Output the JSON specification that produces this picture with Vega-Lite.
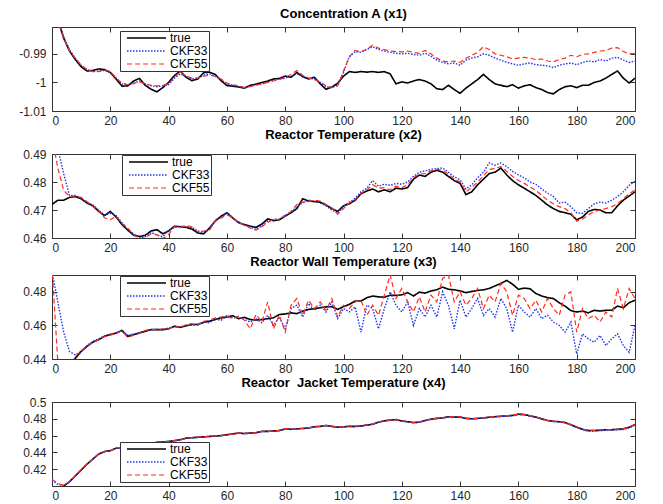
{
"$schema": "https://vega.github.io/schema/vega-lite/v6.json",
"padding": {"left": 18, "top": 7, "right": 5, "bottom": 2},
"spacing": 1,
"datasets": {
"p1": [
{"x":0,"true":-0.972,"CKF33":-0.971,"CKF55":-0.972},
{"x":2,"true":-0.978,"CKF33":-0.977,"CKF55":-0.978},
{"x":4,"true":-0.9845,"CKF33":-0.984,"CKF55":-0.9845},
{"x":6,"true":-0.989,"CKF33":-0.9885,"CKF55":-0.989},
{"x":8,"true":-0.992,"CKF33":-0.9915,"CKF55":-0.9915},
{"x":10,"true":-0.9945,"CKF33":-0.994,"CKF55":-0.994},
{"x":12,"true":-0.996,"CKF33":-0.9955,"CKF55":-0.9955},
{"x":14,"true":-0.9958,"CKF33":-0.9962,"CKF55":-0.9962},
{"x":16,"true":-0.9953,"CKF33":-0.996,"CKF55":-0.9962},
{"x":18,"true":-0.9955,"CKF33":-0.9958,"CKF55":-0.9955},
{"x":20,"true":-0.9965,"CKF33":-0.9965,"CKF55":-0.9962},
{"x":22,"true":-0.9988,"CKF33":-0.9985,"CKF55":-0.9985},
{"x":24,"true":-1.0013,"CKF33":-1.0005,"CKF55":-1.0002},
{"x":26,"true":-1.0012,"CKF33":-1.0008,"CKF55":-1.0008},
{"x":28,"true":-0.9995,"CKF33":-1.0002,"CKF55":-1.0004},
{"x":30,"true":-0.9986,"CKF33":-0.9995,"CKF55":-0.9998},
{"x":32,"true":-1.001,"CKF33":-1.0005,"CKF55":-1.0005},
{"x":34,"true":-1.0024,"CKF33":-1.0012,"CKF55":-1.001},
{"x":36,"true":-1.0033,"CKF33":-1.0015,"CKF55":-1.0012},
{"x":38,"true":-1.0018,"CKF33":-1.0012,"CKF55":-1.001},
{"x":40,"true":-1.0,"CKF33":-1.0008,"CKF55":-1.0005},
{"x":42,"true":-0.9976,"CKF33":-0.9985,"CKF55":-0.9982},
{"x":44,"true":-0.996,"CKF33":-0.997,"CKF55":-0.9962},
{"x":46,"true":-0.9982,"CKF33":-0.998,"CKF55":-0.9978},
{"x":48,"true":-0.9994,"CKF33":-0.9988,"CKF55":-0.9985},
{"x":50,"true":-0.9988,"CKF33":-0.9985,"CKF55":-0.9985},
{"x":52,"true":-0.9966,"CKF33":-0.9975,"CKF55":-0.9978},
{"x":54,"true":-0.9964,"CKF33":-0.997,"CKF55":-0.9975},
{"x":56,"true":-0.9972,"CKF33":-0.9978,"CKF55":-0.9978},
{"x":58,"true":-0.9994,"CKF33":-0.999,"CKF55":-0.9988},
{"x":60,"true":-1.0011,"CKF33":-1.0005,"CKF55":-1.0002},
{"x":62,"true":-1.0013,"CKF33":-1.001,"CKF55":-1.0008},
{"x":64,"true":-1.0016,"CKF33":-1.0015,"CKF55":-1.0012},
{"x":66,"true":-1.002,"CKF33":-1.0018,"CKF55":-1.0018},
{"x":68,"true":-1.001,"CKF33":-1.0012,"CKF55":-1.0015},
{"x":70,"true":-1.0006,"CKF33":-1.0008,"CKF55":-1.001},
{"x":72,"true":-1.0,"CKF33":-1.0005,"CKF55":-1.0005},
{"x":74,"true":-0.9995,"CKF33":-0.9998,"CKF55":-1.0},
{"x":76,"true":-0.9988,"CKF33":-0.9992,"CKF55":-0.9995},
{"x":78,"true":-0.9986,"CKF33":-0.9988,"CKF55":-0.999},
{"x":80,"true":-0.9978,"CKF33":-0.9985,"CKF55":-0.9982},
{"x":82,"true":-0.9982,"CKF33":-0.9978,"CKF55":-0.9972},
{"x":84,"true":-0.9965,"CKF33":-0.997,"CKF55":-0.9958},
{"x":86,"true":-0.998,"CKF33":-0.9978,"CKF55":-0.9975},
{"x":88,"true":-0.9988,"CKF33":-0.9985,"CKF55":-0.9985},
{"x":90,"true":-0.9982,"CKF33":-0.9988,"CKF55":-0.999},
{"x":92,"true":-1.0005,"CKF33":-1.0,"CKF55":-0.9998},
{"x":94,"true":-1.0024,"CKF33":-1.0015,"CKF55":-1.0012},
{"x":96,"true":-1.0016,"CKF33":-1.0018,"CKF55":-1.0018},
{"x":98,"true":-1.0003,"CKF33":-1.001,"CKF55":-1.0012},
{"x":100,"true":-0.9978,"CKF33":-0.9965,"CKF55":-0.996},
{"x":102,"true":-0.9962,"CKF33":-0.991,"CKF55":-0.991},
{"x":104,"true":-0.9965,"CKF33":-0.9892,"CKF55":-0.9888},
{"x":106,"true":-0.9962,"CKF33":-0.9895,"CKF55":-0.9893},
{"x":108,"true":-0.9964,"CKF33":-0.9885,"CKF55":-0.9883},
{"x":110,"true":-0.9962,"CKF33":-0.9875,"CKF55":-0.987},
{"x":112,"true":-0.9965,"CKF33":-0.9885,"CKF55":-0.988},
{"x":114,"true":-0.9962,"CKF33":-0.989,"CKF55":-0.9885},
{"x":116,"true":-0.997,"CKF33":-0.9895,"CKF55":-0.989},
{"x":118,"true":-1.0005,"CKF33":-0.9898,"CKF55":-0.9892},
{"x":120,"true":-0.9998,"CKF33":-0.99,"CKF55":-0.9893},
{"x":122,"true":-1.0002,"CKF33":-0.9898,"CKF55":-0.989},
{"x":124,"true":-0.9995,"CKF33":-0.9902,"CKF55":-0.9895},
{"x":126,"true":-0.999,"CKF33":-0.9905,"CKF55":-0.9898},
{"x":128,"true":-0.9995,"CKF33":-0.9898,"CKF55":-0.9888},
{"x":130,"true":-1.0005,"CKF33":-0.9908,"CKF55":-0.99},
{"x":132,"true":-1.0022,"CKF33":-0.9922,"CKF55":-0.9915},
{"x":134,"true":-1.0025,"CKF33":-0.993,"CKF55":-0.9925},
{"x":136,"true":-1.001,"CKF33":-0.9935,"CKF55":-0.9928},
{"x":138,"true":-1.0025,"CKF33":-0.9932,"CKF55":-0.9925},
{"x":140,"true":-1.0038,"CKF33":-0.994,"CKF55":-0.993},
{"x":142,"true":-1.002,"CKF33":-0.9922,"CKF55":-0.9915},
{"x":144,"true":-1.0005,"CKF33":-0.9915,"CKF55":-0.9905},
{"x":146,"true":-0.999,"CKF33":-0.991,"CKF55":-0.9895},
{"x":148,"true":-0.9972,"CKF33":-0.99,"CKF55":-0.9875},
{"x":150,"true":-0.999,"CKF33":-0.9905,"CKF55":-0.9885},
{"x":152,"true":-1.0005,"CKF33":-0.9915,"CKF55":-0.99},
{"x":154,"true":-1.001,"CKF33":-0.9922,"CKF55":-0.9905},
{"x":156,"true":-1.0015,"CKF33":-0.993,"CKF55":-0.991},
{"x":158,"true":-1.0008,"CKF33":-0.9935,"CKF55":-0.9918},
{"x":160,"true":-1.002,"CKF33":-0.994,"CKF55":-0.9915},
{"x":162,"true":-1.0012,"CKF33":-0.9935,"CKF55":-0.9912},
{"x":164,"true":-1.0008,"CKF33":-0.9932,"CKF55":-0.9915},
{"x":166,"true":-1.0018,"CKF33":-0.9938,"CKF55":-0.992},
{"x":168,"true":-1.0025,"CKF33":-0.994,"CKF55":-0.9918},
{"x":170,"true":-1.0035,"CKF33":-0.9942,"CKF55":-0.9925},
{"x":172,"true":-1.004,"CKF33":-0.9948,"CKF55":-0.9928},
{"x":174,"true":-1.0025,"CKF33":-0.994,"CKF55":-0.992},
{"x":176,"true":-1.0015,"CKF33":-0.9935,"CKF55":-0.9915},
{"x":178,"true":-1.0012,"CKF33":-0.9932,"CKF55":-0.9905},
{"x":180,"true":-1.0018,"CKF33":-0.9938,"CKF55":-0.991},
{"x":182,"true":-1.001,"CKF33":-0.993,"CKF55":-0.9902},
{"x":184,"true":-1.001,"CKF33":-0.9925,"CKF55":-0.99},
{"x":186,"true":-1.0,"CKF33":-0.9928,"CKF55":-0.9895},
{"x":188,"true":-0.9995,"CKF33":-0.992,"CKF55":-0.989},
{"x":190,"true":-0.9985,"CKF33":-0.9925,"CKF55":-0.9888},
{"x":192,"true":-0.9972,"CKF33":-0.9915,"CKF55":-0.988},
{"x":194,"true":-0.996,"CKF33":-0.9912,"CKF55":-0.9878},
{"x":196,"true":-0.9985,"CKF33":-0.9922,"CKF55":-0.9892},
{"x":198,"true":-1.0002,"CKF33":-0.993,"CKF55":-0.99},
{"x":200,"true":-0.9985,"CKF33":-0.9925,"CKF55":-0.9898}
],
"p2": [
{"x":0,"true":0.472,"CKF33":0.505,"CKF55":0.496},
{"x":2,"true":0.4735,"CKF33":0.492,"CKF55":0.485},
{"x":4,"true":0.4735,"CKF33":0.483,"CKF55":0.477},
{"x":6,"true":0.4745,"CKF33":0.4752,"CKF55":0.4748},
{"x":8,"true":0.4748,"CKF33":0.4752,"CKF55":0.475},
{"x":10,"true":0.474,"CKF33":0.4742,"CKF55":0.4745},
{"x":12,"true":0.4725,"CKF33":0.4728,"CKF55":0.473},
{"x":14,"true":0.4715,"CKF33":0.4718,"CKF55":0.4712},
{"x":16,"true":0.4695,"CKF33":0.47,"CKF55":0.4698},
{"x":18,"true":0.468,"CKF33":0.4682,"CKF55":0.4672},
{"x":20,"true":0.4695,"CKF33":0.4688,"CKF55":0.4665},
{"x":22,"true":0.4675,"CKF33":0.468,"CKF55":0.4678},
{"x":24,"true":0.4648,"CKF33":0.4655,"CKF55":0.4652},
{"x":26,"true":0.4628,"CKF33":0.463,"CKF55":0.4635},
{"x":28,"true":0.461,"CKF33":0.4615,"CKF55":0.4612},
{"x":30,"true":0.4605,"CKF33":0.46,"CKF55":0.4598},
{"x":32,"true":0.461,"CKF33":0.4605,"CKF55":0.46},
{"x":34,"true":0.4625,"CKF33":0.462,"CKF55":0.4615},
{"x":36,"true":0.463,"CKF33":0.461,"CKF55":0.4612},
{"x":38,"true":0.4615,"CKF33":0.4605,"CKF55":0.4598},
{"x":40,"true":0.4625,"CKF33":0.4628,"CKF55":0.4612},
{"x":42,"true":0.4642,"CKF33":0.4638,"CKF55":0.464},
{"x":44,"true":0.464,"CKF33":0.4642,"CKF55":0.4638},
{"x":46,"true":0.4638,"CKF33":0.464,"CKF55":0.4645},
{"x":48,"true":0.4632,"CKF33":0.4638,"CKF55":0.464},
{"x":50,"true":0.4618,"CKF33":0.4625,"CKF55":0.4622},
{"x":52,"true":0.4615,"CKF33":0.462,"CKF55":0.4625},
{"x":54,"true":0.4635,"CKF33":0.463,"CKF55":0.4628},
{"x":56,"true":0.466,"CKF33":0.4665,"CKF55":0.4662},
{"x":58,"true":0.4678,"CKF33":0.4675,"CKF55":0.4672},
{"x":60,"true":0.469,"CKF33":0.4688,"CKF55":0.4682},
{"x":62,"true":0.4672,"CKF33":0.467,"CKF55":0.4675},
{"x":64,"true":0.4655,"CKF33":0.4658,"CKF55":0.4652},
{"x":66,"true":0.4648,"CKF33":0.4645,"CKF55":0.465},
{"x":68,"true":0.4642,"CKF33":0.464,"CKF55":0.4635},
{"x":70,"true":0.4638,"CKF33":0.463,"CKF55":0.4628},
{"x":72,"true":0.465,"CKF33":0.4645,"CKF55":0.464},
{"x":74,"true":0.4668,"CKF33":0.466,"CKF55":0.4655},
{"x":76,"true":0.4662,"CKF33":0.4665,"CKF55":0.4668},
{"x":78,"true":0.4665,"CKF33":0.4668,"CKF55":0.4665},
{"x":80,"true":0.4678,"CKF33":0.468,"CKF55":0.4682},
{"x":82,"true":0.469,"CKF33":0.4692,"CKF55":0.4695},
{"x":84,"true":0.4705,"CKF33":0.4712,"CKF55":0.472},
{"x":86,"true":0.474,"CKF33":0.4725,"CKF55":0.4728},
{"x":88,"true":0.4732,"CKF33":0.4735,"CKF55":0.473},
{"x":90,"true":0.473,"CKF33":0.4732,"CKF55":0.4735},
{"x":92,"true":0.4728,"CKF33":0.4725,"CKF55":0.4732},
{"x":94,"true":0.4718,"CKF33":0.4715,"CKF55":0.472},
{"x":96,"true":0.4705,"CKF33":0.47,"CKF55":0.4708},
{"x":98,"true":0.4695,"CKF33":0.4688,"CKF55":0.4685},
{"x":100,"true":0.4715,"CKF33":0.4712,"CKF55":0.4705},
{"x":102,"true":0.4722,"CKF33":0.4728,"CKF55":0.4725},
{"x":104,"true":0.4735,"CKF33":0.4742,"CKF55":0.4738},
{"x":106,"true":0.4758,"CKF33":0.4765,"CKF55":0.476},
{"x":108,"true":0.4768,"CKF33":0.4778,"CKF55":0.4772},
{"x":110,"true":0.4775,"CKF33":0.4805,"CKF55":0.479},
{"x":112,"true":0.4765,"CKF33":0.4785,"CKF55":0.4778},
{"x":114,"true":0.4772,"CKF33":0.4792,"CKF55":0.478},
{"x":116,"true":0.4765,"CKF33":0.4788,"CKF55":0.4772},
{"x":118,"true":0.4778,"CKF33":0.4795,"CKF55":0.4785},
{"x":120,"true":0.4775,"CKF33":0.4792,"CKF55":0.478},
{"x":122,"true":0.478,"CKF33":0.48,"CKF55":0.479},
{"x":124,"true":0.481,"CKF33":0.482,"CKF55":0.4815},
{"x":126,"true":0.4825,"CKF33":0.4835,"CKF55":0.4828},
{"x":128,"true":0.482,"CKF33":0.484,"CKF55":0.483},
{"x":130,"true":0.4835,"CKF33":0.4845,"CKF55":0.484},
{"x":132,"true":0.4842,"CKF33":0.4848,"CKF55":0.4845},
{"x":134,"true":0.4835,"CKF33":0.485,"CKF55":0.4842},
{"x":136,"true":0.482,"CKF33":0.4835,"CKF55":0.4828},
{"x":138,"true":0.4805,"CKF33":0.4818,"CKF55":0.481},
{"x":140,"true":0.4795,"CKF33":0.4808,"CKF55":0.48},
{"x":142,"true":0.4755,"CKF33":0.4775,"CKF55":0.4765},
{"x":144,"true":0.4765,"CKF33":0.479,"CKF55":0.478},
{"x":146,"true":0.479,"CKF33":0.4815,"CKF55":0.48},
{"x":148,"true":0.481,"CKF33":0.4835,"CKF55":0.4822},
{"x":150,"true":0.483,"CKF33":0.4868,"CKF55":0.4845},
{"x":152,"true":0.4835,"CKF33":0.486,"CKF55":0.4848},
{"x":154,"true":0.485,"CKF33":0.4868,"CKF55":0.4855},
{"x":156,"true":0.4825,"CKF33":0.4855,"CKF55":0.4838},
{"x":158,"true":0.4805,"CKF33":0.4838,"CKF55":0.482},
{"x":160,"true":0.479,"CKF33":0.4825,"CKF55":0.4805},
{"x":162,"true":0.4778,"CKF33":0.4815,"CKF55":0.4795},
{"x":164,"true":0.4765,"CKF33":0.48,"CKF55":0.4782},
{"x":166,"true":0.4752,"CKF33":0.4792,"CKF55":0.477},
{"x":168,"true":0.4735,"CKF33":0.4775,"CKF55":0.4752},
{"x":170,"true":0.4718,"CKF33":0.476,"CKF55":0.4735},
{"x":172,"true":0.4705,"CKF33":0.4748,"CKF55":0.4722},
{"x":174,"true":0.4695,"CKF33":0.4725,"CKF55":0.4712},
{"x":176,"true":0.469,"CKF33":0.4728,"CKF55":0.4705},
{"x":178,"true":0.4685,"CKF33":0.4712,"CKF55":0.469},
{"x":180,"true":0.4665,"CKF33":0.469,"CKF55":0.466},
{"x":182,"true":0.4675,"CKF33":0.4688,"CKF55":0.4668},
{"x":184,"true":0.4695,"CKF33":0.4705,"CKF55":0.4682},
{"x":186,"true":0.4702,"CKF33":0.4722,"CKF55":0.4695},
{"x":188,"true":0.47,"CKF33":0.4728,"CKF55":0.47},
{"x":190,"true":0.469,"CKF33":0.4725,"CKF55":0.4705},
{"x":192,"true":0.469,"CKF33":0.4735,"CKF55":0.4712},
{"x":194,"true":0.4715,"CKF33":0.4748,"CKF55":0.4722},
{"x":196,"true":0.4735,"CKF33":0.4765,"CKF55":0.474},
{"x":198,"true":0.475,"CKF33":0.4788,"CKF55":0.4758},
{"x":200,"true":0.4765,"CKF33":0.4802,"CKF55":0.4772}
],
"p3": [
{"x":0,"true":0.42,"CKF33":0.492,"CKF55":0.495},
{"x":2,"true":0.425,"CKF33":0.474,"CKF55":0.438},
{"x":4,"true":0.43,"CKF33":0.456,"CKF55":0.432},
{"x":6,"true":0.436,"CKF33":0.4445,"CKF55":0.436},
{"x":8,"true":0.4405,"CKF33":0.4425,"CKF55":0.4415},
{"x":10,"true":0.4445,"CKF33":0.4445,"CKF55":0.4448},
{"x":12,"true":0.4475,"CKF33":0.448,"CKF55":0.4478},
{"x":14,"true":0.45,"CKF33":0.4505,"CKF55":0.4498},
{"x":16,"true":0.4515,"CKF33":0.452,"CKF55":0.4515},
{"x":18,"true":0.4535,"CKF33":0.4538,"CKF55":0.4532},
{"x":20,"true":0.4545,"CKF33":0.4548,"CKF55":0.4542},
{"x":22,"true":0.4555,"CKF33":0.4555,"CKF55":0.4552},
{"x":24,"true":0.457,"CKF33":0.4565,"CKF55":0.4568},
{"x":26,"true":0.4535,"CKF33":0.454,"CKF55":0.4528},
{"x":28,"true":0.4545,"CKF33":0.4548,"CKF55":0.4542},
{"x":30,"true":0.4555,"CKF33":0.4558,"CKF55":0.4552},
{"x":32,"true":0.4565,"CKF33":0.4568,"CKF55":0.457},
{"x":34,"true":0.4575,"CKF33":0.4572,"CKF55":0.4578},
{"x":36,"true":0.4575,"CKF33":0.4578,"CKF55":0.4572},
{"x":38,"true":0.4575,"CKF33":0.457,"CKF55":0.458},
{"x":40,"true":0.458,"CKF33":0.4585,"CKF55":0.4578},
{"x":42,"true":0.4595,"CKF33":0.459,"CKF55":0.46},
{"x":44,"true":0.4588,"CKF33":0.4592,"CKF55":0.4585},
{"x":46,"true":0.4598,"CKF33":0.46,"CKF55":0.4605},
{"x":48,"true":0.4605,"CKF33":0.46,"CKF55":0.461},
{"x":50,"true":0.4605,"CKF33":0.4608,"CKF55":0.46},
{"x":52,"true":0.4618,"CKF33":0.462,"CKF55":0.4625},
{"x":54,"true":0.4625,"CKF33":0.4615,"CKF55":0.463},
{"x":56,"true":0.4635,"CKF33":0.464,"CKF55":0.4645},
{"x":58,"true":0.4645,"CKF33":0.463,"CKF55":0.465},
{"x":60,"true":0.465,"CKF33":0.4658,"CKF55":0.4655},
{"x":62,"true":0.4658,"CKF33":0.4645,"CKF55":0.464},
{"x":64,"true":0.464,"CKF33":0.465,"CKF55":0.4655},
{"x":66,"true":0.4648,"CKF33":0.4635,"CKF55":0.463},
{"x":68,"true":0.4635,"CKF33":0.462,"CKF55":0.458},
{"x":70,"true":0.4632,"CKF33":0.464,"CKF55":0.4665},
{"x":72,"true":0.4635,"CKF33":0.4615,"CKF55":0.462},
{"x":74,"true":0.464,"CKF33":0.466,"CKF55":0.474},
{"x":76,"true":0.4645,"CKF33":0.46,"CKF55":0.458},
{"x":78,"true":0.4665,"CKF33":0.465,"CKF55":0.466},
{"x":80,"true":0.4668,"CKF33":0.458,"CKF55":0.456},
{"x":82,"true":0.4675,"CKF33":0.47,"CKF55":0.472},
{"x":84,"true":0.467,"CKF33":0.472,"CKF55":0.476},
{"x":86,"true":0.4685,"CKF33":0.465,"CKF55":0.466},
{"x":88,"true":0.4695,"CKF33":0.473,"CKF55":0.475},
{"x":90,"true":0.47,"CKF33":0.469,"CKF55":0.47},
{"x":92,"true":0.4705,"CKF33":0.472,"CKF55":0.474},
{"x":94,"true":0.471,"CKF33":0.468,"CKF55":0.469},
{"x":96,"true":0.4712,"CKF33":0.474,"CKF55":0.476},
{"x":98,"true":0.4695,"CKF33":0.464,"CKF55":0.465},
{"x":100,"true":0.4712,"CKF33":0.47,"CKF55":0.472},
{"x":102,"true":0.4725,"CKF33":0.468,"CKF55":0.47},
{"x":104,"true":0.4745,"CKF33":0.471,"CKF55":0.474},
{"x":106,"true":0.4745,"CKF33":0.456,"CKF55":0.475},
{"x":108,"true":0.4765,"CKF33":0.472,"CKF55":0.466},
{"x":110,"true":0.4775,"CKF33":0.47,"CKF55":0.472},
{"x":112,"true":0.477,"CKF33":0.458,"CKF55":0.466},
{"x":114,"true":0.4768,"CKF33":0.47,"CKF55":0.478},
{"x":116,"true":0.478,"CKF33":0.48,"CKF55":0.49},
{"x":118,"true":0.4778,"CKF33":0.472,"CKF55":0.476},
{"x":120,"true":0.4782,"CKF33":0.468,"CKF55":0.482},
{"x":122,"true":0.4795,"CKF33":0.474,"CKF55":0.474},
{"x":124,"true":0.4775,"CKF33":0.46,"CKF55":0.468},
{"x":126,"true":0.4798,"CKF33":0.47,"CKF55":0.477},
{"x":128,"true":0.4792,"CKF33":0.465,"CKF55":0.468},
{"x":130,"true":0.4805,"CKF33":0.472,"CKF55":0.478},
{"x":132,"true":0.4812,"CKF33":0.465,"CKF55":0.474},
{"x":134,"true":0.4828,"CKF33":0.48,"CKF55":0.488},
{"x":136,"true":0.4815,"CKF33":0.472,"CKF55":0.49},
{"x":138,"true":0.4812,"CKF33":0.458,"CKF55":0.474},
{"x":140,"true":0.4805,"CKF33":0.475,"CKF55":0.48},
{"x":142,"true":0.4795,"CKF33":0.465,"CKF55":0.472},
{"x":144,"true":0.4802,"CKF33":0.47,"CKF55":0.476},
{"x":146,"true":0.4808,"CKF33":0.476,"CKF55":0.482},
{"x":148,"true":0.4812,"CKF33":0.466,"CKF55":0.47},
{"x":150,"true":0.482,"CKF33":0.47,"CKF55":0.478},
{"x":152,"true":0.4835,"CKF33":0.465,"CKF55":0.474},
{"x":154,"true":0.485,"CKF33":0.476,"CKF55":0.485},
{"x":156,"true":0.4868,"CKF33":0.47,"CKF55":0.48},
{"x":158,"true":0.4845,"CKF33":0.456,"CKF55":0.466},
{"x":160,"true":0.4815,"CKF33":0.472,"CKF55":0.478},
{"x":162,"true":0.4822,"CKF33":0.468,"CKF55":0.476},
{"x":164,"true":0.4818,"CKF33":0.465,"CKF55":0.47},
{"x":166,"true":0.479,"CKF33":0.47,"CKF55":0.475},
{"x":168,"true":0.4775,"CKF33":0.464,"CKF55":0.468},
{"x":170,"true":0.4765,"CKF33":0.466,"CKF55":0.476},
{"x":172,"true":0.476,"CKF33":0.462,"CKF55":0.47},
{"x":174,"true":0.4735,"CKF33":0.46,"CKF55":0.466},
{"x":176,"true":0.4715,"CKF33":0.456,"CKF55":0.478},
{"x":178,"true":0.4688,"CKF33":0.462,"CKF55":0.48},
{"x":180,"true":0.468,"CKF33":0.443,"CKF55":0.456},
{"x":182,"true":0.4685,"CKF33":0.455,"CKF55":0.47},
{"x":184,"true":0.4675,"CKF33":0.452,"CKF55":0.464},
{"x":186,"true":0.469,"CKF33":0.45,"CKF55":0.466},
{"x":188,"true":0.4685,"CKF33":0.454,"CKF55":0.462},
{"x":190,"true":0.469,"CKF33":0.448,"CKF55":0.468},
{"x":192,"true":0.469,"CKF33":0.452,"CKF55":0.465},
{"x":194,"true":0.4715,"CKF33":0.455,"CKF55":0.482},
{"x":196,"true":0.4705,"CKF33":0.448,"CKF55":0.47},
{"x":198,"true":0.4735,"CKF33":0.444,"CKF55":0.482},
{"x":200,"true":0.475,"CKF33":0.46,"CKF55":0.476}
],
"p4": [
{"x":0,"true":0.395,"CKF33":0.407,"CKF55":0.408},
{"x":2,"true":0.397,"CKF33":0.402,"CKF55":0.403},
{"x":4,"true":0.4,"CKF33":0.4005,"CKF55":0.401},
{"x":6,"true":0.405,"CKF33":0.4052,"CKF55":0.4055},
{"x":8,"true":0.412,"CKF33":0.4118,"CKF55":0.4122},
{"x":10,"true":0.419,"CKF33":0.4188,"CKF55":0.4192},
{"x":12,"true":0.426,"CKF33":0.4258,"CKF55":0.4262},
{"x":14,"true":0.432,"CKF33":0.4322,"CKF55":0.4318},
{"x":16,"true":0.438,"CKF33":0.4378,"CKF55":0.4382},
{"x":18,"true":0.441,"CKF33":0.4408,"CKF55":0.4412},
{"x":20,"true":0.442,"CKF33":0.4422,"CKF55":0.4418},
{"x":22,"true":0.445,"CKF33":0.4448,"CKF55":0.4452},
{"x":24,"true":0.446,"CKF33":0.4458,"CKF55":0.4462},
{"x":26,"true":0.447,"CKF33":0.4472,"CKF55":0.4468},
{"x":28,"true":0.448,"CKF33":0.4478,"CKF55":0.4482},
{"x":30,"true":0.449,"CKF33":0.4488,"CKF55":0.4492},
{"x":32,"true":0.4505,"CKF33":0.4503,"CKF55":0.4507},
{"x":34,"true":0.451,"CKF33":0.4512,"CKF55":0.4508},
{"x":36,"true":0.452,"CKF33":0.4518,"CKF55":0.4522},
{"x":38,"true":0.4525,"CKF33":0.4523,"CKF55":0.4527},
{"x":40,"true":0.453,"CKF33":0.4532,"CKF55":0.4528},
{"x":42,"true":0.454,"CKF33":0.4538,"CKF55":0.4542},
{"x":44,"true":0.455,"CKF33":0.4548,"CKF55":0.4552},
{"x":46,"true":0.457,"CKF33":0.4572,"CKF55":0.4568},
{"x":48,"true":0.4575,"CKF33":0.4573,"CKF55":0.4577},
{"x":50,"true":0.458,"CKF33":0.4578,"CKF55":0.4582},
{"x":52,"true":0.4585,"CKF33":0.4583,"CKF55":0.4587},
{"x":54,"true":0.459,"CKF33":0.4592,"CKF55":0.4588},
{"x":56,"true":0.4595,"CKF33":0.4593,"CKF55":0.4597},
{"x":58,"true":0.46,"CKF33":0.4598,"CKF55":0.4602},
{"x":60,"true":0.461,"CKF33":0.4608,"CKF55":0.4612},
{"x":62,"true":0.462,"CKF33":0.4622,"CKF55":0.4618},
{"x":64,"true":0.463,"CKF33":0.4628,"CKF55":0.4632},
{"x":66,"true":0.4625,"CKF33":0.4622,"CKF55":0.4627},
{"x":68,"true":0.463,"CKF33":0.4628,"CKF55":0.4632},
{"x":70,"true":0.4635,"CKF33":0.4633,"CKF55":0.4637},
{"x":72,"true":0.465,"CKF33":0.4648,"CKF55":0.4652},
{"x":74,"true":0.465,"CKF33":0.4652,"CKF55":0.4648},
{"x":76,"true":0.4655,"CKF33":0.4653,"CKF55":0.4657},
{"x":78,"true":0.466,"CKF33":0.4658,"CKF55":0.4662},
{"x":80,"true":0.468,"CKF33":0.4678,"CKF55":0.4682},
{"x":82,"true":0.4675,"CKF33":0.4673,"CKF55":0.4677},
{"x":84,"true":0.468,"CKF33":0.4682,"CKF55":0.4678},
{"x":86,"true":0.4685,"CKF33":0.4683,"CKF55":0.4687},
{"x":88,"true":0.469,"CKF33":0.4688,"CKF55":0.4692},
{"x":90,"true":0.4705,"CKF33":0.4703,"CKF55":0.4707},
{"x":92,"true":0.471,"CKF33":0.4712,"CKF55":0.4708},
{"x":94,"true":0.472,"CKF33":0.4718,"CKF55":0.4722},
{"x":96,"true":0.471,"CKF33":0.4708,"CKF55":0.4712},
{"x":98,"true":0.47,"CKF33":0.4702,"CKF55":0.4698},
{"x":100,"true":0.4705,"CKF33":0.4703,"CKF55":0.4707},
{"x":102,"true":0.471,"CKF33":0.4708,"CKF55":0.4712},
{"x":104,"true":0.471,"CKF33":0.4705,"CKF55":0.4712},
{"x":106,"true":0.4715,"CKF33":0.4713,"CKF55":0.4717},
{"x":108,"true":0.4725,"CKF33":0.4722,"CKF55":0.4727},
{"x":110,"true":0.4735,"CKF33":0.4733,"CKF55":0.4737},
{"x":112,"true":0.476,"CKF33":0.4758,"CKF55":0.4762},
{"x":114,"true":0.4775,"CKF33":0.4773,"CKF55":0.4777},
{"x":116,"true":0.4785,"CKF33":0.4783,"CKF55":0.4787},
{"x":118,"true":0.479,"CKF33":0.4788,"CKF55":0.4792},
{"x":120,"true":0.4775,"CKF33":0.4772,"CKF55":0.4777},
{"x":122,"true":0.4765,"CKF33":0.4763,"CKF55":0.4767},
{"x":124,"true":0.4755,"CKF33":0.4752,"CKF55":0.4757},
{"x":126,"true":0.476,"CKF33":0.4758,"CKF55":0.4762},
{"x":128,"true":0.478,"CKF33":0.4778,"CKF55":0.4782},
{"x":130,"true":0.4795,"CKF33":0.4793,"CKF55":0.4797},
{"x":132,"true":0.4805,"CKF33":0.4803,"CKF55":0.4807},
{"x":134,"true":0.481,"CKF33":0.4808,"CKF55":0.4812},
{"x":136,"true":0.4825,"CKF33":0.4822,"CKF55":0.4827},
{"x":138,"true":0.482,"CKF33":0.4818,"CKF55":0.4822},
{"x":140,"true":0.482,"CKF33":0.4817,"CKF55":0.4822},
{"x":142,"true":0.4805,"CKF33":0.4803,"CKF55":0.4807},
{"x":144,"true":0.48,"CKF33":0.4797,"CKF55":0.4802},
{"x":146,"true":0.4805,"CKF33":0.4802,"CKF55":0.4807},
{"x":148,"true":0.481,"CKF33":0.4808,"CKF55":0.4812},
{"x":150,"true":0.482,"CKF33":0.4817,"CKF55":0.4822},
{"x":152,"true":0.4825,"CKF33":0.4822,"CKF55":0.4827},
{"x":154,"true":0.483,"CKF33":0.4827,"CKF55":0.4832},
{"x":156,"true":0.4835,"CKF33":0.4832,"CKF55":0.4837},
{"x":158,"true":0.484,"CKF33":0.4835,"CKF55":0.4842},
{"x":160,"true":0.4855,"CKF33":0.485,"CKF55":0.4857},
{"x":162,"true":0.485,"CKF33":0.4847,"CKF55":0.4852},
{"x":164,"true":0.4835,"CKF33":0.4832,"CKF55":0.4837},
{"x":166,"true":0.482,"CKF33":0.4817,"CKF55":0.4822},
{"x":168,"true":0.48,"CKF33":0.4797,"CKF55":0.4802},
{"x":170,"true":0.478,"CKF33":0.4777,"CKF55":0.4782},
{"x":172,"true":0.477,"CKF33":0.4767,"CKF55":0.4772},
{"x":174,"true":0.4765,"CKF33":0.4762,"CKF55":0.4767},
{"x":176,"true":0.4755,"CKF33":0.4752,"CKF55":0.4757},
{"x":178,"true":0.473,"CKF33":0.4727,"CKF55":0.4732},
{"x":180,"true":0.47,"CKF33":0.4695,"CKF55":0.4702},
{"x":182,"true":0.4675,"CKF33":0.467,"CKF55":0.4677},
{"x":184,"true":0.466,"CKF33":0.4652,"CKF55":0.4662},
{"x":186,"true":0.466,"CKF33":0.4652,"CKF55":0.4662},
{"x":188,"true":0.4665,"CKF33":0.4658,"CKF55":0.4667},
{"x":190,"true":0.467,"CKF33":0.4662,"CKF55":0.4672},
{"x":192,"true":0.467,"CKF33":0.4665,"CKF55":0.4672},
{"x":194,"true":0.4675,"CKF33":0.4668,"CKF55":0.4677},
{"x":196,"true":0.468,"CKF33":0.4672,"CKF55":0.4682},
{"x":198,"true":0.47,"CKF33":0.4692,"CKF55":0.4702},
{"x":200,"true":0.473,"CKF33":0.4725,"CKF55":0.4735}
]
},
"vconcat": [
{
"width": 583, "height": 84,
"title": {"text": "Concentration A (x1)"},
"data": {"name": "p1"},
"transform": [{"fold": ["true", "CKF33", "CKF55"], "as": ["series", "value"]}],
"layer": [
{"mark": {"type": "line", "clip": true},
"encoding": {
"x": {"field": "x", "type": "quantitative", "scale": {"domain": [0, 200], "nice": false}, "axis": {"values": [0,20,40,60,80,100,120,140,160,180,200], "title": null}},
"y": {"field": "value", "type": "quantitative", "scale": {"domain": [-1.01, -0.9806], "nice": false, "zero": false}, "axis": {"values": [-1.01, -1, -0.99], "title": null, "labelExpr": "replace(format(datum.value, '.2~f'), '\u2212', '-')"}},
"color": {"field": "series", "type": "nominal", "sort": ["true", "CKF33", "CKF55"], "scale": {"domain": ["true", "CKF33", "CKF55"], "range": ["#000000", "#2233ee", "#ff2a1a"]}, "legend": {"legendX": 68, "legendY": 4}},
"strokeDash": {"field": "series", "type": "nominal", "sort": ["true", "CKF33", "CKF55"], "scale": {"domain": ["true", "CKF33", "CKF55"], "range": [[1, 0], [1.5, 1.5], [5, 3]]}, "legend": {"legendX": 68, "legendY": 4}},
"strokeWidth": {"field": "series", "type": "nominal", "scale": {"domain": ["true", "CKF33", "CKF55"], "range": [1.6, 1.2, 1.3]}, "legend": null}
}},
{"mark": {"type": "line", "opacity": 0, "clip": true},
"encoding": {
"x": {"field": "x", "type": "quantitative", "axis": {"orient": "top", "values": [0,20,40,60,80,100,120,140,160,180,200], "labels": false, "title": null}},
"y": {"field": "value", "type": "quantitative", "axis": {"orient": "right", "values": [-1.01, -1, -0.99], "labels": false, "title": null}},
"detail": {"field": "series"}
}}
],
"resolve": {"axis": {"x": "independent", "y": "independent"}}
},
{
"width": 583, "height": 84,
"title": {"text": "Reactor Temperature (x2)"},
"data": {"name": "p2"},
"transform": [{"fold": ["true", "CKF33", "CKF55"], "as": ["series", "value"]}],
"layer": [
{"mark": {"type": "line", "clip": true},
"encoding": {
"x": {"field": "x", "type": "quantitative", "scale": {"domain": [0, 200], "nice": false}, "axis": {"values": [0,20,40,60,80,100,120,140,160,180,200], "title": null}},
"y": {"field": "value", "type": "quantitative", "scale": {"domain": [0.46, 0.49], "nice": false, "zero": false}, "axis": {"values": [0.46, 0.47, 0.48, 0.49], "title": null, "format": ".2f"}},
"color": {"field": "series", "type": "nominal", "sort": ["true", "CKF33", "CKF55"], "scale": {"domain": ["true", "CKF33", "CKF55"], "range": ["#000000", "#2233ee", "#ff2a1a"]}, "legend": {"legendX": 70, "legendY": 1}},
"strokeDash": {"field": "series", "type": "nominal", "sort": ["true", "CKF33", "CKF55"], "scale": {"domain": ["true", "CKF33", "CKF55"], "range": [[1, 0], [1.5, 1.5], [5, 3]]}, "legend": {"legendX": 70, "legendY": 1}},
"strokeWidth": {"field": "series", "type": "nominal", "scale": {"domain": ["true", "CKF33", "CKF55"], "range": [1.6, 1.2, 1.3]}, "legend": null}
}},
{"mark": {"type": "line", "opacity": 0, "clip": true},
"encoding": {
"x": {"field": "x", "type": "quantitative", "axis": {"orient": "top", "values": [0,20,40,60,80,100,120,140,160,180,200], "labels": false, "title": null}},
"y": {"field": "value", "type": "quantitative", "axis": {"orient": "right", "values": [0.46, 0.47, 0.48, 0.49], "labels": false, "title": null}},
"detail": {"field": "series"}
}}
],
"resolve": {"axis": {"x": "independent", "y": "independent"}}
},
{
"width": 583, "height": 84,
"title": {"text": "Reactor Wall Temperature (x3)"},
"data": {"name": "p3"},
"transform": [{"fold": ["true", "CKF33", "CKF55"], "as": ["series", "value"]}],
"layer": [
{"mark": {"type": "line", "clip": true},
"encoding": {
"x": {"field": "x", "type": "quantitative", "scale": {"domain": [0, 200], "nice": false}, "axis": {"values": [0,20,40,60,80,100,120,140,160,180,200], "title": null}},
"y": {"field": "value", "type": "quantitative", "scale": {"domain": [0.44, 0.49], "nice": false, "zero": false}, "axis": {"values": [0.44, 0.46, 0.48], "title": null, "format": ".2f"}},
"color": {"field": "series", "type": "nominal", "sort": ["true", "CKF33", "CKF55"], "scale": {"domain": ["true", "CKF33", "CKF55"], "range": ["#000000", "#2233ee", "#ff2a1a"]}, "legend": {"legendX": 68, "legendY": 1}},
"strokeDash": {"field": "series", "type": "nominal", "sort": ["true", "CKF33", "CKF55"], "scale": {"domain": ["true", "CKF33", "CKF55"], "range": [[1, 0], [1.5, 1.5], [5, 3]]}, "legend": {"legendX": 68, "legendY": 1}},
"strokeWidth": {"field": "series", "type": "nominal", "scale": {"domain": ["true", "CKF33", "CKF55"], "range": [1.6, 1.2, 1.3]}, "legend": null}
}},
{"mark": {"type": "line", "opacity": 0, "clip": true},
"encoding": {
"x": {"field": "x", "type": "quantitative", "axis": {"orient": "top", "values": [0,20,40,60,80,100,120,140,160,180,200], "labels": false, "title": null}},
"y": {"field": "value", "type": "quantitative", "axis": {"orient": "right", "values": [0.44, 0.46, 0.48], "labels": false, "title": null}},
"detail": {"field": "series"}
}}
],
"resolve": {"axis": {"x": "independent", "y": "independent"}}
},
{
"width": 583, "height": 84,
"title": {"text": "Reactor\u00a0 Jacket Temperature (x4)"},
"data": {"name": "p4"},
"transform": [{"fold": ["true", "CKF33", "CKF55"], "as": ["series", "value"]}],
"layer": [
{"mark": {"type": "line", "clip": true},
"encoding": {
"x": {"field": "x", "type": "quantitative", "scale": {"domain": [0, 200], "nice": false}, "axis": {"values": [0,20,40,60,80,100,120,140,160,180,200], "title": null}},
"y": {"field": "value", "type": "quantitative", "scale": {"domain": [0.4, 0.5], "nice": false, "zero": false}, "axis": {"values": [0.42, 0.44, 0.46, 0.48, 0.5], "title": null, "format": ".2~f"}},
"color": {"field": "series", "type": "nominal", "sort": ["true", "CKF33", "CKF55"], "scale": {"domain": ["true", "CKF33", "CKF55"], "range": ["#000000", "#2233ee", "#ff2a1a"]}, "legend": {"legendX": 68, "legendY": 40}},
"strokeDash": {"field": "series", "type": "nominal", "sort": ["true", "CKF33", "CKF55"], "scale": {"domain": ["true", "CKF33", "CKF55"], "range": [[1, 0], [1.5, 1.5], [5, 3]]}, "legend": {"legendX": 68, "legendY": 40}},
"strokeWidth": {"field": "series", "type": "nominal", "scale": {"domain": ["true", "CKF33", "CKF55"], "range": [1.6, 1.2, 1.3]}, "legend": null}
}},
{"mark": {"type": "line", "opacity": 0, "clip": true},
"encoding": {
"x": {"field": "x", "type": "quantitative", "axis": {"orient": "top", "values": [0,20,40,60,80,100,120,140,160,180,200], "labels": false, "title": null}},
"y": {"field": "value", "type": "quantitative", "axis": {"orient": "right", "values": [0.42, 0.44, 0.46, 0.48, 0.5], "labels": false, "title": null}},
"detail": {"field": "series"}
}}
],
"resolve": {"axis": {"x": "independent", "y": "independent"}}
}
],
"resolve": {"scale": {"color": "independent", "strokeDash": "independent", "strokeWidth": "independent", "x": "independent", "y": "independent"}},
"config": {
"font": "Liberation Sans",
"background": "white",
"view": {"stroke": "#333333", "strokeWidth": 1},
"axis": {"grid": false, "domain": false, "labelFont": "Liberation Sans", "labelFontSize": 12, "labelColor": "#262626", "tickColor": "#333333", "tickSize": -5, "labelPadding": 9},
"axisY": {"labelPadding": 11},
"title": {"font": "Liberation Sans", "fontSize": 13, "fontWeight": "bold", "color": "#000000", "offset": 6, "anchor": "middle"},
"legend": {"orient": "none", "title": null, "symbolType": "M0,0H7.8", "symbolSize": 100, "symbolStrokeWidth": 1.3, "labelFont": "Liberation Sans", "labelFontSize": 12, "labelColor": "#000000", "strokeColor": "#333333", "fillColor": "white", "padding": 1, "rowPadding": 1, "labelOffset": 37, "labelLimit": 60}
}
}
